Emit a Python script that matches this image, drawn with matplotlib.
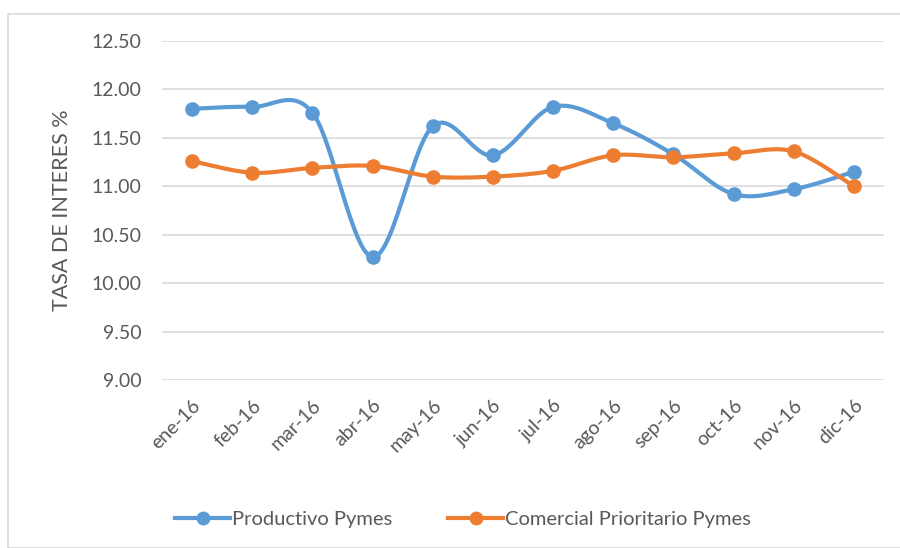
import matplotlib
matplotlib.use("Agg")
import matplotlib.pyplot as plt
from matplotlib.patches import Rectangle
from matplotlib.lines import Line2D
import numpy as np

months = ["ene-16", "feb-16", "mar-16", "abr-16", "may-16", "jun-16",
          "jul-16", "ago-16", "sep-16", "oct-16", "nov-16", "dic-16"]
productivo = [11.80, 11.82, 11.76, 10.27, 11.62, 11.32, 11.82, 11.65, 11.33, 10.92, 10.97, 11.15]
comercial = [11.26, 11.14, 11.19, 11.21, 11.10, 11.10, 11.16, 11.32, 11.30, 11.34, 11.36, 11.00]
yticks = [9.00, 9.50, 10.00, 10.50, 11.00, 11.50, 12.00, 12.50]

BLUE = "#5B9BD5"
ORANGE = "#ED7D31"
TXT = "#595959"

plt.rcParams['font.family'] = ['Lato', 'DejaVu Sans']


def smooth(x, y, n=30):
    # Catmull-Rom style bezier, similar to Excel's smoothed line
    x = np.asarray(x, float)
    y = np.asarray(y, float)
    pts = np.column_stack([x, y])
    out = []
    for i in range(len(pts) - 1):
        p0 = pts[max(i - 1, 0)]
        p1 = pts[i]
        p2 = pts[i + 1]
        p3 = pts[min(i + 2, len(pts) - 1)]
        c1 = p1 + (p2 - p0) / 6
        c2 = p2 - (p3 - p1) / 6
        t = np.linspace(0, 1, n)[:, None]
        seg = ((1 - t) ** 3) * p1 + 3 * ((1 - t) ** 2) * t * c1 + 3 * (1 - t) * t ** 2 * c2 + t ** 3 * p2
        out.append(seg if i == 0 else seg[1:])
    out = np.vstack(out)
    return out[:, 0], out[:, 1]


fig = plt.figure(figsize=(9, 5.48), dpi=100)
fig.patches.append(Rectangle((8 / 900, 0), 1, 1 - 14 / 548, transform=fig.transFigure,
                             fill=False, edgecolor="#d9d9d9", linewidth=1.2))

ax = fig.add_axes([162 / 900, 1 - 380 / 548, (884 - 162) / 900, (380 - 41) / 548])
x = np.arange(len(months))

for vals, col in [(productivo, BLUE), (comercial, ORANGE)]:
    sx, sy = smooth(x, vals)
    ax.plot(sx, sy, color=col, linewidth=3, solid_capstyle="round", zorder=3)
    ax.plot(x, vals, "o", color=col, markersize=9.5, zorder=4)

ax.set_xlim(-0.5, len(months) - 0.5)
ax.set_ylim(9.0, 12.5)
ax.set_yticks(yticks)
ax.set_yticklabels([f"{v:.2f}" for v in yticks], fontsize=14, color=TXT)
ax.set_xticks(x)
ax.set_xticklabels(months, rotation=45, ha="right", rotation_mode="anchor",
                   fontsize=14, color=TXT)
ax.tick_params(axis="y", length=0, pad=15)
ax.tick_params(axis="x", length=0, pad=12)
ax.grid(axis="y", color="#d9d9d9", linewidth=1.2)
ax.set_axisbelow(True)
for s in ax.spines.values():
    s.set_visible(False)
ax.set_ylabel("TASA DE INTERES %", fontsize=15.5, color=TXT, labelpad=14)

handles = [Line2D([], [], color=BLUE, linewidth=3, marker="o", markersize=9),
           Line2D([], [], color=ORANGE, linewidth=3, marker="o", markersize=9)]
leg = fig.legend(handles, ["Productivo Pymes", "Comercial Prioritario Pymes"],
                 loc="center", bbox_to_anchor=(463 / 900, 1 - 519 / 548), ncol=2,
                 frameon=False, fontsize=14.5, handlelength=2.7, handletextpad=0.1,
                 columnspacing=2.8)
for t in leg.get_texts():
    t.set_color(TXT)

fig.savefig("out.png", dpi=100)
